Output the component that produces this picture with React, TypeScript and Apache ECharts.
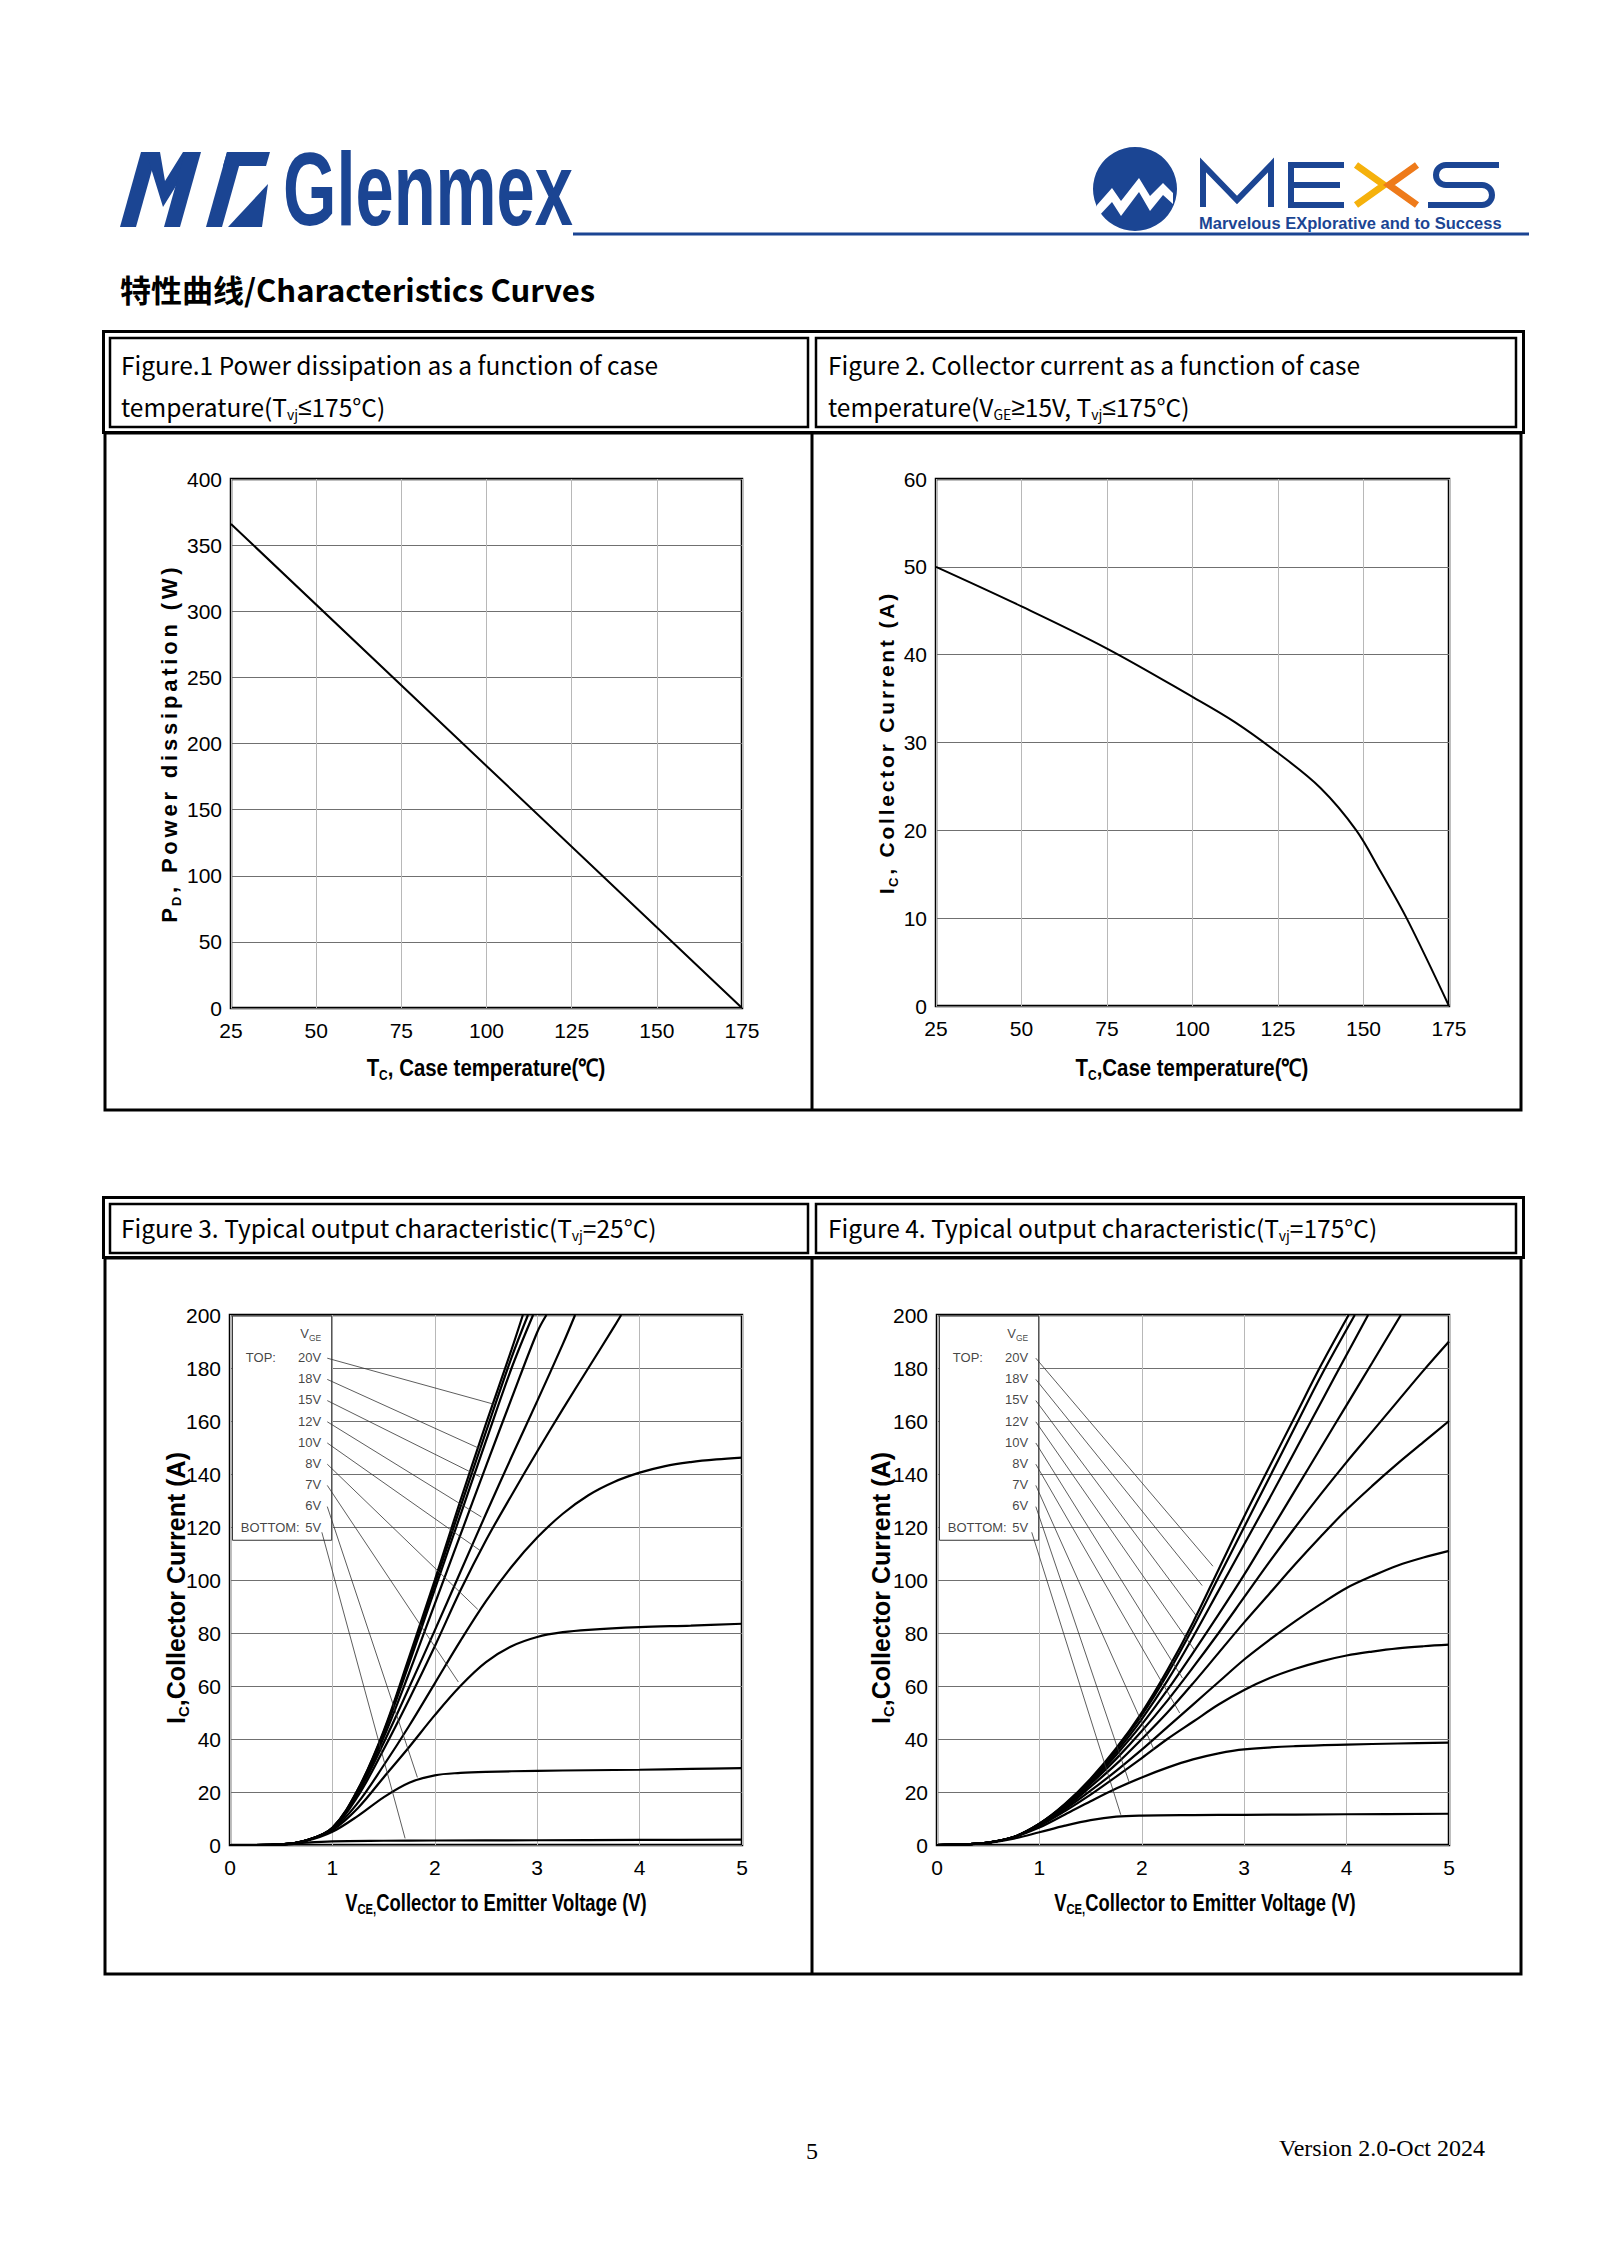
import React, { useEffect, useRef } from "react";
import * as echarts from "echarts";

const FONT_NARROW = "'Liberation Sans Narrow', 'Arial Narrow', 'Liberation Sans', Arial, sans-serif";
const FONT_ARIAL = "'Liberation Sans', Arial, sans-serif";
const FONT_CJK = "'Noto Sans CJK SC', 'Noto Sans', sans-serif";
const FONT_SERIF = "'Liberation Serif', 'Times New Roman', serif";
const BLUE = "#1b4593";

// ---------------- Figure 1: power dissipation vs case temperature ----------------
const fig1CaseTemp = [25, 100, 175];
const fig1Power = [366, 183, 0];

// ---------------- Figure 2: collector current vs case temperature ----------------
const fig2CaseTemp = [25, 50, 75, 100, 112.5, 125, 137.5, 147.9, 155, 162.6, 175];
const fig2Current = [50, 45.5, 40.7, 35.2, 32.3, 28.8, 24.8, 20, 15.3, 10, 0];

// ---------------- Figure 3: output characteristic, Tvj = 25°C ([Vce, Ic]) ----------------
const fig3CurveA = [[0, 0], [0.25, 0], [0.5, 0.2], [0.75, 1.8], [1, 6.5], [1.25, 21], [1.5, 43], [1.75, 71], [2, 100], [2.25, 130], [2.5, 159], [2.75, 187], [2.86, 200]];
const fig3CurveB = [[0, 0], [0.25, 0], [0.5, 0.2], [0.75, 1.8], [1, 6.5], [1.25, 21], [1.5, 42.5], [1.75, 70], [2, 98.5], [2.25, 127.5], [2.5, 156], [2.75, 184], [2.91, 200]];
const fig3CurveC = [[0, 0], [0.25, 0], [0.5, 0.2], [0.75, 1.8], [1, 6.4], [1.25, 20.5], [1.5, 42], [1.75, 68.5], [2, 96.5], [2.25, 124.5], [2.5, 152.5], [2.75, 180], [2.96, 200]];
const fig3CurveD = [[0, 0], [0.25, 0], [0.5, 0.2], [0.75, 1.8], [1, 6.3], [1.25, 20], [1.5, 40.5], [1.75, 65], [2, 91], [2.25, 117], [2.5, 143], [2.75, 168.5], [3, 193.5], [3.09, 200]];
const fig3CurveE = [[0, 0], [0.25, 0], [0.5, 0.2], [0.75, 1.8], [1, 6.2], [1.25, 19.5], [1.5, 38.5], [1.75, 59.5], [2, 81], [2.25, 103], [2.5, 125], [2.75, 146.5], [3, 167.5], [3.25, 189], [3.37, 200]];
const fig3CurveF = [[0, 0], [0.25, 0], [0.5, 0.2], [0.75, 1.8], [1, 6], [1.25, 18.5], [1.5, 36], [1.75, 55], [2, 75], [2.25, 96], [2.5, 115], [2.75, 132], [3, 148.5], [3.25, 164.5], [3.5, 180], [3.75, 195.5], [3.82, 200]];
const fig3CurveG = [[0, 0], [0.25, 0], [0.5, 0.2], [0.75, 1.8], [1, 5.8], [1.25, 16], [1.5, 30], [1.75, 45], [2, 61], [2.25, 77], [2.5, 92], [2.75, 105], [3, 116], [3.25, 125], [3.5, 132], [3.75, 137], [4, 140.5], [4.25, 143], [4.5, 144.5], [4.75, 145.5], [5, 146.2]];
const fig3CurveH = [[0, 0], [0.25, 0], [0.5, 0.2], [0.75, 1.8], [1, 5.6], [1.25, 14], [1.5, 25.5], [1.75, 37], [2, 49], [2.25, 60], [2.5, 69], [2.75, 75], [3, 78.5], [3.25, 80.3], [3.5, 81.2], [4, 82.2], [4.5, 82.8], [5, 83.5]];
const fig3CurveI = [[0, 0], [0.25, 0], [0.5, 0.2], [0.75, 1.6], [1, 5], [1.25, 11], [1.5, 18], [1.75, 23.5], [2, 26.3], [2.25, 27.2], [2.5, 27.6], [3, 28], [3.5, 28.2], [4, 28.4], [4.5, 28.7], [5, 29]];
const fig3CurveJ = [[0, 0], [0.25, 0], [0.5, 0.1], [0.75, 0.9], [1, 1.4], [1.5, 1.6], [2, 1.7], [3, 1.8], [4, 1.9], [5, 2]];

// ---------------- Figure 4: output characteristic, Tvj = 175°C ----------------
const fig4CurveA = [[0, 0], [0.25, 0.2], [0.5, 0.9], [0.75, 3], [1, 8], [1.25, 15.5], [1.5, 25], [1.75, 36.5], [2, 50], [2.25, 66], [2.5, 84], [2.75, 104], [3, 124], [3.25, 143], [3.5, 162], [3.75, 181], [4.02, 200]];
const fig4CurveB = [[0, 0], [0.25, 0.2], [0.5, 0.9], [0.75, 3], [1, 8], [1.25, 15.3], [1.5, 24.7], [1.75, 36], [2, 49], [2.25, 64.5], [2.5, 82], [2.75, 101], [3, 120], [3.25, 139], [3.5, 158], [3.75, 177], [4.08, 200]];
const fig4CurveC = [[0, 0], [0.25, 0.2], [0.5, 0.9], [0.75, 3], [1, 8], [1.25, 15], [1.5, 24], [1.75, 35], [2, 47.5], [2.25, 62], [2.5, 78.5], [2.75, 96], [3, 113.5], [3.25, 131], [3.5, 149], [3.75, 167], [4, 185], [4.21, 200]];
const fig4CurveD = [[0, 0], [0.25, 0.2], [0.5, 0.9], [0.75, 3], [1, 7.9], [1.25, 14.7], [1.5, 23.5], [1.75, 34], [2, 45.5], [2.25, 58.5], [2.5, 72.5], [2.75, 87], [3, 102], [3.25, 118], [3.5, 134], [3.75, 150], [4, 166], [4.25, 182], [4.53, 200]];
const fig4CurveE = [[0, 0], [0.25, 0.2], [0.5, 0.9], [0.75, 3], [1, 7.8], [1.25, 14.5], [1.5, 23], [1.75, 32.5], [2, 43], [2.25, 54.5], [2.5, 67], [2.75, 80], [3, 93.5], [3.25, 107], [3.5, 120], [3.75, 132.5], [4, 144.5], [4.25, 156], [4.5, 167.5], [4.75, 179], [5, 190]];
const fig4CurveF = [[0, 0], [0.25, 0.2], [0.5, 0.9], [0.75, 3], [1, 7.7], [1.25, 14], [1.5, 22], [1.75, 30.5], [2, 40], [2.25, 50], [2.5, 61], [2.75, 72.5], [3, 84], [3.25, 95], [3.5, 106], [3.75, 116.5], [4, 126.5], [4.25, 135.5], [4.5, 144], [4.75, 152], [5, 160]];
const fig4CurveG = [[0, 0], [0.25, 0.2], [0.5, 0.9], [0.75, 3], [1, 7.5], [1.25, 13.5], [1.5, 20.5], [1.75, 28], [2, 36], [2.25, 44.5], [2.5, 53], [2.75, 61.5], [3, 70], [3.25, 77.5], [3.5, 84.5], [3.75, 91], [4, 97], [4.25, 101.5], [4.5, 105.5], [4.75, 108.5], [5, 111]];
const fig4CurveH = [[0, 0], [0.25, 0.2], [0.5, 0.9], [0.75, 3], [1, 7.2], [1.25, 12.8], [1.5, 19], [1.75, 25.8], [2, 32.8], [2.25, 40], [2.5, 46.5], [2.75, 53], [3, 58.5], [3.25, 63], [3.5, 66.5], [3.75, 69.3], [4, 71.5], [4.25, 73], [4.5, 74.2], [4.75, 75], [5, 75.6]];
const fig4CurveI = [[0, 0], [0.25, 0.2], [0.5, 0.9], [0.75, 3], [1, 6.6], [1.25, 11.5], [1.5, 16.5], [1.75, 21.3], [2, 25.5], [2.25, 29.2], [2.5, 32.3], [2.75, 34.6], [3, 36.1], [3.5, 37.3], [4, 37.9], [4.5, 38.3], [5, 38.6]];
const fig4CurveJ = [[0, 0], [0.25, 0.2], [0.5, 0.8], [0.75, 2.4], [1, 4.8], [1.25, 7.3], [1.5, 9.4], [1.75, 10.7], [2, 11.1], [2.5, 11.3], [3, 11.4], [4, 11.6], [5, 11.8]];

// ---------------- Legend (VGE) ----------------
const vgeLabels = ["20V", "18V", "15V", "12V", "10V", "8V", "7V", "6V", "5V"];
const fig3LeaderEnds = [[2.58, 166.3], [2.455, 149.3], [2.44, 139], [2.455, 123.8], [2.44, 111.2], [2.42, 88.9], [2.23, 61.5], [1.83, 25.5], [1.71, 2.5]];
const fig4LeaderEnds = [[2.695, 105.2], [2.59, 97.9], [2.54, 86.1], [2.514, 73.6], [2.397, 63], [2.37, 49.8], [2.12, 35.9], [1.88, 23.3], [1.795, 11.4]];

let shapesDone = false;
function registerShapes() {
  if (shapesDone) return;
  shapesDone = true;
  echarts.graphic.registerShape(
    "mexsS",
    echarts.graphic.extendPath("M1499,165 L1446,165 A10,10 0 0 0 1446,185 L1482,185 A10,10 0 0 1 1482,205 L1428,205", {})
  );
}

function xAxis(gridIndex: number, min: number, max: number, interval: number) {
  return {
    type: "value", gridIndex, min, max, interval,
    axisLine: { show: false }, axisTick: { show: false },
    axisLabel: { color: "#000", fontSize: 21, fontFamily: FONT_NARROW, margin: 12 },
    splitLine: { show: true, lineStyle: { color: "#b8b8b8", width: 1 } },
  };
}
function yAxis(gridIndex: number, min: number, max: number, interval: number) {
  return {
    type: "value", gridIndex, min, max, interval,
    axisLine: { show: false }, axisTick: { show: false },
    axisLabel: { color: "#000", fontSize: 21, fontFamily: FONT_NARROW, margin: 9 },
    splitLine: { show: true, lineStyle: { color: "#707070", width: 1 } },
  };
}

function curveSeries(ax: number, data: number[][], width: number, smooth: number) {
  return {
    type: "line", xAxisIndex: ax, yAxisIndex: ax, data, symbol: "none", smooth,
    lineStyle: { color: "#000", width }, z: 3, silent: true, clip: true,
  };
}

function legendSeries(ax: number, leaderX: number, fiveStart: number[], ends: number[][]) {
  const rowY = (i: number) => 184 - 8 * i;
  const labelData: any[] = vgeLabels.map((l, i) => ({ value: [0.905, rowY(i)], name: l }));
  labelData.push({ value: [0.14, rowY(0)], name: "TOP:", label: { position: "right" } });
  labelData.push({ value: [0.09, rowY(8)], name: "BOTTOM:", label: { position: "right" } });
  labelData.push({ value: [0.905, 193], name: "VGE", label: { formatter: "{a|V}{b|GE}" } });
  return [
    {
      type: "line", xAxisIndex: ax, yAxisIndex: ax, data: [[0, 0]], symbol: "none", silent: true, z: 3,
      lineStyle: { width: 0 },
      markArea: {
        silent: true, label: { show: false },
        itemStyle: { color: "#fff", borderColor: "#333", borderWidth: 1 },
        data: [[{ coord: [0.024, 199.6] }, { coord: [0.993, 115] }]],
      },
    },
    {
      type: "lines", coordinateSystem: "cartesian2d", xAxisIndex: ax, yAxisIndex: ax, silent: true, z: 4,
      lineStyle: { color: "#333", width: 0.8, opacity: 1, curveness: 0 },
      data: vgeLabels.map((l, i) => ({ coords: [i === 8 ? fiveStart : [leaderX, rowY(i) - 0.3], ends[i]] })),
    },
    {
      type: "scatter", xAxisIndex: ax, yAxisIndex: ax, silent: true, z: 5, symbolSize: 1,
      itemStyle: { color: "rgba(0,0,0,0)" },
      label: {
        show: true, position: "left", distance: 1, formatter: "{b}", color: "#111", fontSize: 13, fontFamily: FONT_NARROW,
        rich: {
          a: { fontSize: 13, fontFamily: FONT_NARROW, color: "#111", lineHeight: 17 },
          b: { fontSize: 8.5, fontFamily: FONT_NARROW, color: "#111", verticalAlign: "bottom" },
        },
      },
      data: labelData,
    },
  ];
}

function txt(x: number, y: number, text: string, o: any = {}, el: any = {}) {
  return { type: "text", x, y, silent: true, ...el, style: { text, fill: "#000", ...o } };
}
function richTxt(x: number, y: number, text: string, size: number, family: string, weight: string, subSize: number, lh: number, el: any = {}, align = "left") {
  return {
    type: "text", x, y, silent: true, ...el,
    style: {
      text, align, verticalAlign: "middle",
      rich: {
        m: { fontSize: size, fontFamily: family, fontWeight: weight, fill: "#000", lineHeight: lh, verticalAlign: "middle" },
        n: { fontSize: size, fontFamily: FONT_ARIAL, fontWeight: weight, fill: "#000", lineHeight: lh, verticalAlign: "middle" },
        s: { fontSize: subSize, fontFamily: family, fontWeight: weight, fill: "#000", verticalAlign: "bottom" },
      },
    },
  };
}
// letter-spaced rotated axis title, each glyph as its own rich token with padding
function spacedTitle(x: number, y: number, main: string, sub: string, rest: string, size: number, pad: number) {
  const body = rest.split("").map((ch) => (ch === " " ? "{w|\u00A0}" : `{l|${ch}}`)).join("");
  return {
    type: "text", x, y, silent: true, rotation: Math.PI / 2,
    style: {
      text: `{l|${main}}{s|${sub}}` + body, align: "center", verticalAlign: "middle",
      rich: {
        l: { fontSize: size, fontFamily: FONT_ARIAL, fontWeight: "bold", fill: "#000", lineHeight: size + 6, padding: [0, pad, 0, pad], verticalAlign: "middle" },
        w: { fontSize: size, fontFamily: FONT_ARIAL, fontWeight: "bold", fill: "#000", lineHeight: size + 6, padding: [0, pad, 0, pad], verticalAlign: "middle" },
        s: { fontSize: Math.round(size * 0.6), fontFamily: FONT_ARIAL, fontWeight: "bold", fill: "#000", padding: [0, pad, 0, 0], verticalAlign: "bottom" },
      },
    },
  };
}
function rect(x: number, y: number, w: number, h: number, lw: number) {
  return { type: "rect", silent: true, shape: { x, y, width: w, height: h }, style: { fill: "none", stroke: "#000", lineWidth: lw } };
}
function line(x1: number, y1: number, x2: number, y2: number, lw: number, color = "#000") {
  return { type: "line", silent: true, shape: { x1, y1, x2, y2 }, style: { stroke: color, lineWidth: lw } };
}

function buildOption() {
  const graphic: any[] = [];
  // ---- header: Glenmex logo ----
  graphic.push({ type: "polygon", silent: true, shape: { points: [[120, 227], [141, 152], [157, 152], [136, 227]] }, style: { fill: BLUE } });
  graphic.push({ type: "polygon", silent: true, shape: { points: [[146, 152], [160, 152], [165, 181], [183, 152], [197, 152], [163, 207]] }, style: { fill: BLUE } });
  graphic.push({ type: "polygon", silent: true, shape: { points: [[185, 152], [201, 152], [180, 227], [164, 227]] }, style: { fill: BLUE } });
  graphic.push({ type: "polygon", silent: true, shape: { points: [[206, 227], [227, 152], [243, 152], [222, 227]] }, style: { fill: BLUE } });
  graphic.push({ type: "polygon", silent: true, shape: { points: [[227, 152], [270, 152], [266, 166], [223, 166]] }, style: { fill: BLUE } });
  graphic.push({ type: "polygon", silent: true, shape: { points: [[228, 227], [262, 227], [268, 184]] }, style: { fill: BLUE } });
  graphic.push(txt(283, 189, "Glenmex", { fontSize: 104, fontWeight: "bold", fontFamily: FONT_ARIAL, fill: BLUE, verticalAlign: "middle" }, { scaleX: 0.66 }));
  graphic.push(line(573, 234, 1529, 234, 3, BLUE));
  // ---- header: MEXS logo ----
  graphic.push({ type: "circle", silent: true, shape: { cx: 1135, cy: 189, r: 42 }, style: { fill: BLUE } });
  graphic.push({
    type: "polygon", silent: true,
    shape: { points: [[1097, 205], [1112, 188], [1121, 201], [1139, 178], [1150, 196], [1163, 183], [1173, 193], [1173, 204], [1163, 195], [1150, 211], [1139, 192], [1121, 216], [1112, 202], [1097, 218]] },
    style: { fill: "#fff" },
  });
  graphic.push({ type: "polyline", silent: true, shape: { points: [[1203, 207], [1203, 165], [1237, 200], [1271, 165], [1271, 207]] }, style: { stroke: BLUE, lineWidth: 6, fill: "none" } });
  graphic.push({ type: "polyline", silent: true, shape: { points: [[1344, 165], [1291, 165], [1291, 205], [1344, 205]] }, style: { stroke: BLUE, lineWidth: 6, fill: "none" } });
  graphic.push(line(1291, 185, 1340, 185, 6, BLUE));
  graphic.push({ type: "polyline", silent: true, shape: { points: [[1356, 165], [1384, 185], [1356, 205]] }, style: { stroke: "#f5b10c", lineWidth: 7, fill: "none" } });
  graphic.push({ type: "polyline", silent: true, shape: { points: [[1417, 165], [1389, 185], [1417, 205]] }, style: { stroke: "#ee7a1a", lineWidth: 7, fill: "none" } });
  graphic.push({ type: "mexsS", silent: true, style: { stroke: BLUE, lineWidth: 6, fill: "none" } });
  graphic.push(txt(1199, 223, "Marvelous EXplorative and to Success", { fontSize: 16.5, fontWeight: "bold", fontFamily: FONT_ARIAL, fill: BLUE, verticalAlign: "middle" }));
  // ---- section heading ----
  graphic.push(txt(120, 288, "特性曲线/Characteristics Curves", { fontSize: 31, fontWeight: "bold", fontFamily: FONT_CJK, verticalAlign: "middle" }));

  // ---- table 1 frames ----
  graphic.push(rect(103.5, 331.5, 1420, 101, 3));
  graphic.push(rect(110, 338, 698, 89, 2.5));
  graphic.push(rect(816, 338, 700, 89, 2.5));
  graphic.push(rect(105, 433, 1416, 677, 3));
  graphic.push(line(812, 433, 812, 1110, 3));
  // ---- table 2 frames ----
  graphic.push(rect(103.5, 1197.5, 1420, 60, 3));
  graphic.push(rect(110, 1204, 698, 49, 2.5));
  graphic.push(rect(816, 1204, 700, 49, 2.5));
  graphic.push(rect(105, 1258, 1416, 716, 3));
  graphic.push(line(812, 1258, 812, 1974, 3));

  // ---- figure titles ----
  const T = (x: number, y: number, s: string) => richTxt(x, y, s, 24.5, FONT_CJK, "normal", 14, 30);
  graphic.push(T(121, 364, "{m|Figure.1 Power dissipation as a function of case}"));
  graphic.push(T(121, 406, "{m|temperature(T}{s|vj}{n|≤}{m|175°C)}"));
  graphic.push(T(828, 364, "{m|Figure 2. Collector current as a function of case}"));
  graphic.push(T(828, 406, "{m|temperature(V}{s|GE}{n|≥}{m|15V, T}{s|vj}{n|≤}{m|175°C)}"));
  graphic.push(T(121, 1227, "{m|Figure 3. Typical output characteristic(T}{s|vj}{m|=25°C)}"));
  graphic.push(T(828, 1227, "{m|Figure 4. Typical output characteristic(T}{s|vj}{m|=175°C)}"));

  // ---- axis names ----
  const rot = { rotation: Math.PI / 2 };
  graphic.push(spacedTitle(169, 745, "P", "D", ", Power dissipation (W)", 22, 1.9));
  graphic.push(richTxt(486, 1068, "{m|T}{s|C}{m|, Case temperature(℃)}", 24, FONT_NARROW, "bold", 14, 28, { scaleX: 0.85 }, "center"));
  graphic.push(spacedTitle(886, 744, "I", "C", ", Collector Current (A)", 21, 1.4));
  graphic.push(richTxt(1192, 1068, "{m|T}{s|C}{m|,Case temperature(℃)}", 24, FONT_NARROW, "bold", 14, 28, { scaleX: 0.85 }, "center"));
  graphic.push(richTxt(176, 1588, "{m|I}{s|C}{m|,Collector Current (A)}", 25, FONT_ARIAL, "bold", 15, 30, rot, "center"));
  graphic.push(richTxt(496, 1903, "{m|V}{s|CE,}{m|Collector to Emitter Voltage (V)}", 23, FONT_NARROW, "bold", 14, 28, { scaleX: 0.8 }, "center"));
  graphic.push(richTxt(881, 1588, "{m|I}{s|C}{m|,Collector Current (A)}", 25, FONT_ARIAL, "bold", 15, 30, rot, "center"));
  graphic.push(richTxt(1205, 1903, "{m|V}{s|CE,}{m|Collector to Emitter Voltage (V)}", 23, FONT_NARROW, "bold", 14, 28, { scaleX: 0.8 }, "center"));

  // ---- footer ----
  graphic.push(txt(812, 2151, "5", { fontSize: 24, fontFamily: FONT_SERIF, align: "center", verticalAlign: "middle" }));
  graphic.push(txt(1485, 2148, "Version 2.0-Oct 2024", { fontSize: 24, fontFamily: FONT_SERIF, align: "right", verticalAlign: "middle" }));

  const grid = [
    { left: 231, top: 479, width: 511, height: 529 },
    { left: 936, top: 479, width: 513, height: 527 },
    { left: 230, top: 1315, width: 512, height: 530 },
    { left: 937, top: 1315, width: 512, height: 530 },
  ].map((g) => ({ ...g, show: true, borderColor: "#000", borderWidth: 2.5, backgroundColor: "transparent", containLabel: false }));

  const series: any[] = [];
  series.push(curveSeries(0, fig1CaseTemp.map((t, i) => [t, fig1Power[i]]), 2, 0));
  series.push(curveSeries(1, fig2CaseTemp.map((t, i) => [t, fig2Current[i]]), 2, 0.35));
  [fig3CurveA, fig3CurveB, fig3CurveC, fig3CurveD, fig3CurveE, fig3CurveF, fig3CurveG, fig3CurveH, fig3CurveI, fig3CurveJ].forEach((c) =>
    series.push(curveSeries(2, c, 2.2, 0.35))
  );
  [fig4CurveA, fig4CurveB, fig4CurveC, fig4CurveD, fig4CurveE, fig4CurveF, fig4CurveG, fig4CurveH, fig4CurveI, fig4CurveJ].forEach((c) =>
    series.push(curveSeries(3, c, 2.2, 0.35))
  );
  series.push(...legendSeries(2, 0.95, [0.897, 118], fig3LeaderEnds));
  series.push(...legendSeries(3, 0.965, [0.925, 118], fig4LeaderEnds));

  return {
    animation: false,
    backgroundColor: "#fff",
    grid,
    xAxis: [xAxis(0, 25, 175, 25), xAxis(1, 25, 175, 25), xAxis(2, 0, 5, 1), xAxis(3, 0, 5, 1)],
    yAxis: [yAxis(0, 0, 400, 50), yAxis(1, 0, 60, 10), yAxis(2, 0, 200, 20), yAxis(3, 0, 200, 20)],
    series,
    graphic,
  };
}

export default function App() {
  const ref = useRef<HTMLDivElement>(null);
  useEffect(() => {
    registerShapes();
    const chart = echarts.init(ref.current as HTMLDivElement, null, { renderer: "svg" });
    chart.setOption(buildOption() as any);
    return () => chart.dispose();
  }, []);
  return <div ref={ref} style={{ position: "absolute", left: 0, top: 0, width: 1600, height: 2263, background: "#fff" }} />;
}
